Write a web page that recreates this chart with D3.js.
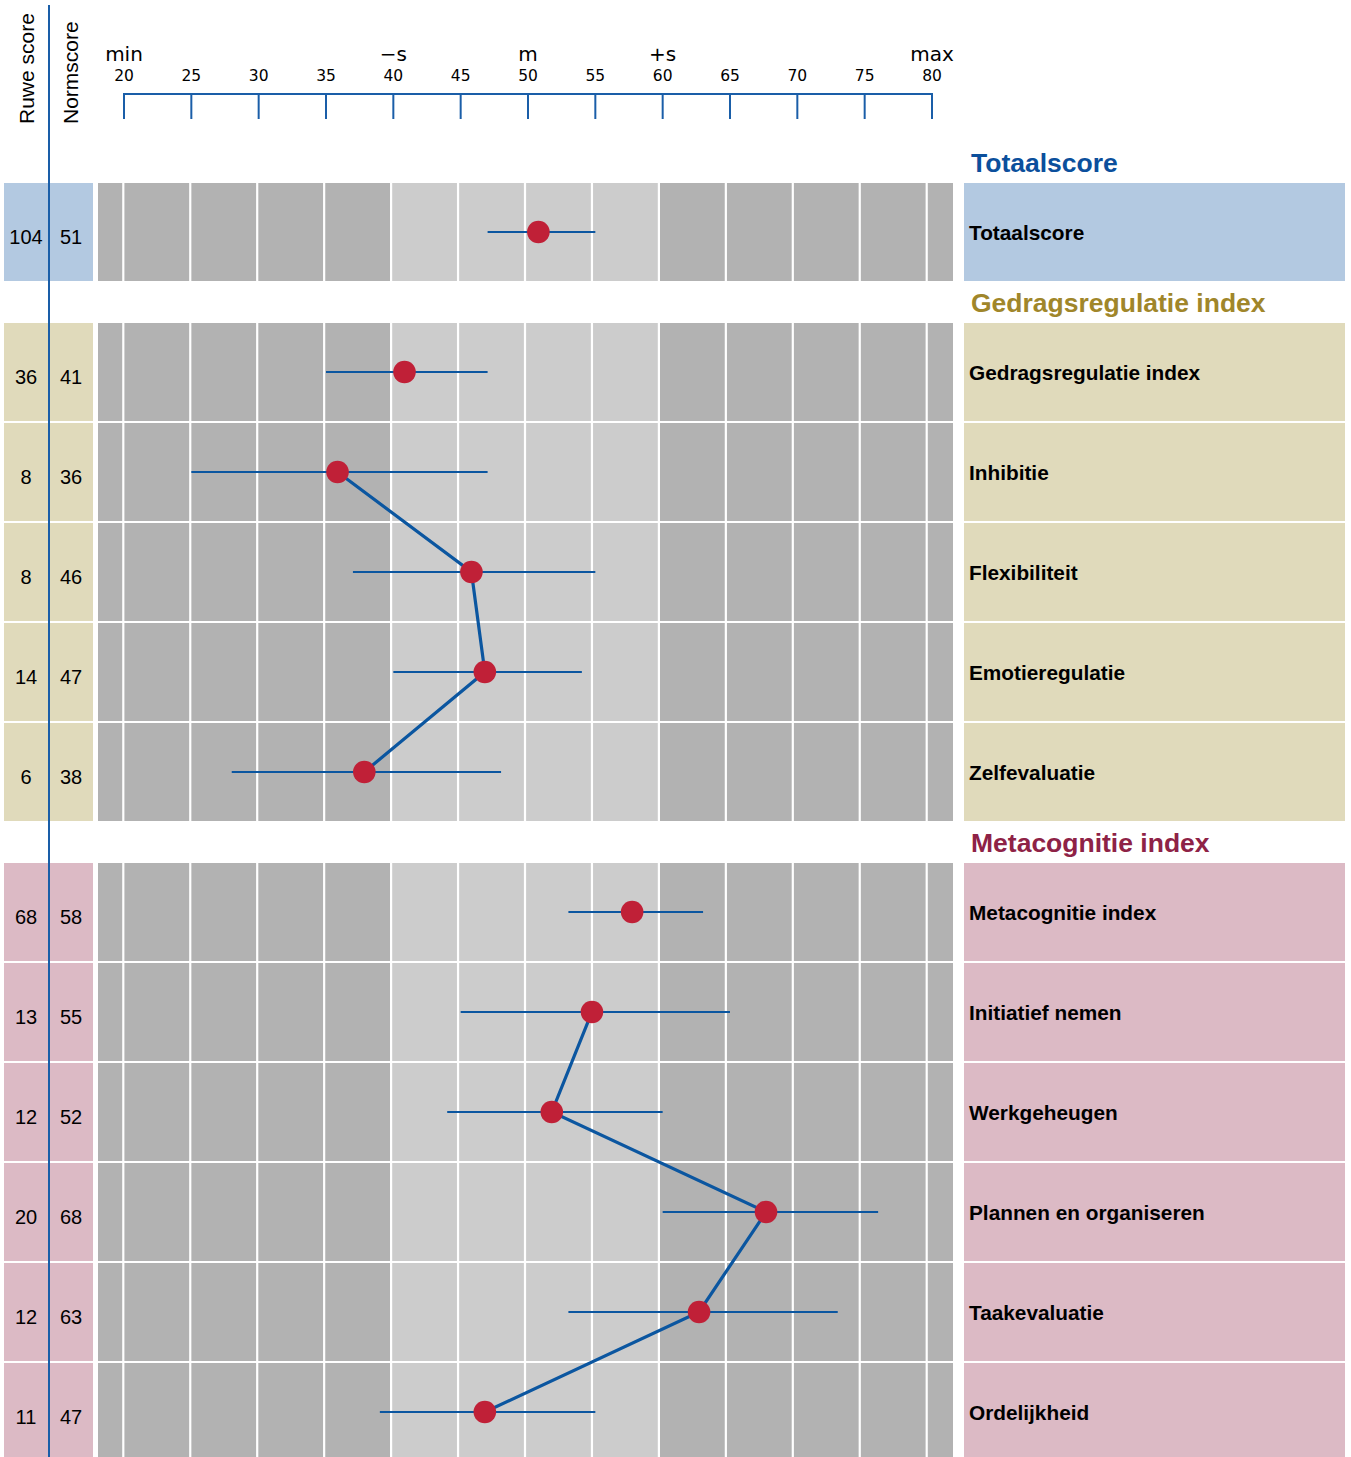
<!DOCTYPE html>
<html>
<head>
<meta charset="utf-8">
<script src="https://cdn.jsdelivr.net/npm/d3@7"></script>
<style>
	html, body { margin: 0; padding: 0; background: #fff; }
	svg { display: block; }
	.side { font-family: 'Liberation Sans', Arial, sans-serif; }
	.axis-text { font-family: 'DejaVu Sans', sans-serif; }
</style>
</head>
<body>
<svg id="chart"></svg>
<script>
// groups and scales
const groupNames = ['Totaalscore', 'Gedragsregulatie index', 'Metacognitie index'];
const groupTitleColors = ['#0b4f9c', '#a0862a', '#8e2246'];
const groupPanelColors = ['#b3c9e1', '#e0dabb', '#dcbac5'];

const scaleNames = [
	'Totaalscore',
	'Gedragsregulatie index', 'Inhibitie', 'Flexibiliteit', 'Emotieregulatie', 'Zelfevaluatie',
	'Metacognitie index', 'Initiatief nemen', 'Werkgeheugen', 'Plannen en organiseren', 'Taakevaluatie', 'Ordelijkheid',
];
const scaleGroup = [0, 1, 1, 1, 1, 1, 2, 2, 2, 2, 2, 2];
const isIndex = [true, true, false, false, false, false, true, false, false, false, false, false];
const rawScores = [104, 36, 8, 8, 14, 6, 68, 13, 12, 20, 12, 11];
const normScores = [51, 41, 36, 46, 47, 38, 58, 55, 52, 68, 63, 47];
const ciLow = [47, 35, 25, 37, 40, 28, 53, 45, 44, 60, 53, 39];
const ciHigh = [55, 47, 47, 55, 54, 48, 63, 65, 60, 76, 73, 55];

// axis
const tickValues = [20, 25, 30, 35, 40, 45, 50, 55, 60, 65, 70, 75, 80];
const markValues = [20, 40, 50, 60, 80];
const markLabels = ['min', '\u2212s', 'm', '+s', 'max'];
const normBand = [40, 60];

const W = 1351, H = 1457;
const blue = '#1a5ea8';
const lineBlue = '#0b56a0';
const dotRed = '#c02037';

const svg = d3.select('#chart')
	.attr('width', W)
	.attr('height', H);

// axis scale and (slightly narrower) plot-grid scale
const x = d3.scaleLinear().domain([20, 80]).range([124, 932]);
const xp = d3.scaleLinear().domain([20, 80]).range([123.3, 926.7]);

// row layout: 100px rows, 40px gap before each new group
const rowH = 100, groupGap = 40, firstTop = 182;
const rowTop = [];
let cur = firstTop;
scaleNames.forEach((d, i) => {
	if (i > 0 && scaleGroup[i] !== scaleGroup[i - 1]) cur += groupGap;
	rowTop.push(cur);
	cur += rowH;
});
const rowMid = (i) => rowTop[i] + rowH / 2;
const rows = scaleNames.map((name, i) => ({
	i, name,
	group: scaleGroup[i],
	raw: rawScores[i],
	norm: normScores[i],
	lo: ciLow[i],
	hi: ciHigh[i],
	first: i === 0 || scaleGroup[i] !== scaleGroup[i - 1],
}));

// header: column titles
svg.append('text')
	.attr('class', 'side')
	.attr('transform', 'translate(34, 124) rotate(-90)')
	.attr('font-size', 21)
	.text('Ruwe score');
svg.append('text')
	.attr('class', 'side')
	.attr('transform', 'translate(78, 124) rotate(-90)')
	.attr('font-size', 21)
	.text('Normscore');

// top axis
const axisG = svg.append('g')
	.attr('transform', 'translate(0, 94)');
axisG.append('line')
	.attr('x1', x(20)).attr('x2', x(80))
	.attr('stroke', blue).attr('stroke-width', 2.2);
axisG.selectAll('.tick')
	.data(tickValues)
	.join('line')
		.attr('x1', (d) => x(d)).attr('x2', (d) => x(d))
		.attr('y1', -1).attr('y2', 25)
		.attr('stroke', blue).attr('stroke-width', 2);
axisG.selectAll('.tl')
	.data(tickValues)
	.join('text')
		.attr('class', 'axis-text')
		.attr('x', (d) => x(d))
		.attr('y', -13)
		.attr('text-anchor', 'middle')
		.attr('font-size', 15.5)
		.text((d) => d);
axisG.selectAll('.ml')
	.data(markValues)
	.join('text')
		.attr('class', 'axis-text')
		.attr('x', (d) => x(d))
		.attr('y', -33)
		.attr('text-anchor', 'middle')
		.attr('font-size', 20)
		.text((d, i) => markLabels[i]);

// group titles
svg.selectAll('.gtitle')
	.data(rows.filter((r) => r.first))
	.join('text')
		.attr('class', 'side')
		.attr('x', 971)
		.attr('y', (r) => rowTop[r.i] - 10)
		.attr('font-size', 26.5)
		.attr('font-weight', 'bold')
		.attr('fill', (r) => groupTitleColors[r.group])
		.text((r) => groupNames[r.group]);

// row backgrounds
const rowG = svg.selectAll('.row')
	.data(rows)
	.join('g')
		.attr('transform', (r) => `translate(0, ${ rowTop[r.i] })`);

// left panel (scores)
rowG.append('rect')
	.attr('x', 4).attr('width', 89)
	.attr('y', 1).attr('height', rowH - 2)
	.attr('fill', (r) => groupPanelColors[r.group]);
rowG.append('text')
	.attr('class', 'side')
	.attr('x', 26).attr('y', rowH / 2 + 12)
	.attr('text-anchor', 'middle')
	.attr('font-size', 20)
	.text((r) => r.raw);
rowG.append('text')
	.attr('class', 'side')
	.attr('x', 71).attr('y', rowH / 2 + 12)
	.attr('text-anchor', 'middle')
	.attr('font-size', 20)
	.text((r) => r.norm);

// right panel (labels)
rowG.append('rect')
	.attr('x', 964).attr('width', 381)
	.attr('y', 1).attr('height', rowH - 2)
	.attr('fill', (r) => groupPanelColors[r.group]);
rowG.append('text')
	.attr('class', 'side')
	.attr('x', 969).attr('y', rowH / 2 + 8)
	.attr('font-size', 20.8)
	.attr('font-weight', 'bold')
	.text((r) => r.name);

// plot cells: dark outside norm band, light inside
const plot = rowG.append('g');
plot.append('rect')
	.attr('x', 98).attr('width', 855)
	.attr('y', 1).attr('height', rowH - 2)
	.attr('fill', '#b2b2b2');
plot.append('rect')
	.attr('x', xp(normBand[0])).attr('width', xp(normBand[1]) - xp(normBand[0]))
	.attr('y', 1).attr('height', rowH - 2)
	.attr('fill', '#cccccc');
plot.selectAll('.grid')
	.data(tickValues)
	.join('line')
		.attr('x1', (d) => xp(d)).attr('x2', (d) => xp(d))
		.attr('y1', 0).attr('y2', rowH)
		.attr('stroke', '#fff').attr('stroke-width', 2.2);

// vertical divider in the left panel
svg.append('line')
	.attr('x1', 49).attr('x2', 49)
	.attr('y1', 5).attr('y2', H)
	.attr('stroke', blue).attr('stroke-width', 2);

// marks
const marks = svg.append('g');

// error bars follow the axis scale
marks.selectAll('.ci')
	.data(rows)
	.join('line')
		.attr('x1', (r) => x(r.lo)).attr('x2', (r) => x(r.hi))
		.attr('y1', (r) => rowMid(r.i)).attr('y2', (r) => rowMid(r.i))
		.attr('stroke', lineBlue).attr('stroke-width', 2);

// connecting line through subscales of each group
const line = d3.line()
	.x((r) => xp(r.norm))
	.y((r) => rowMid(r.i));
[1, 2].forEach((g) => {
	const sub = rows.filter((r) => r.group === g && !isIndex[r.i]);
	marks.append('path')
		.datum(sub)
		.attr('d', line)
		.attr('fill', 'none')
		.attr('stroke', lineBlue)
		.attr('stroke-width', 3.2);
});

// points
marks.selectAll('.dot')
	.data(rows)
	.join('circle')
		.attr('cx', (r) => xp(r.norm))
		.attr('cy', (r) => rowMid(r.i))
		.attr('r', 11.3)
		.attr('fill', dotRed);
</script>
</body>
</html>
